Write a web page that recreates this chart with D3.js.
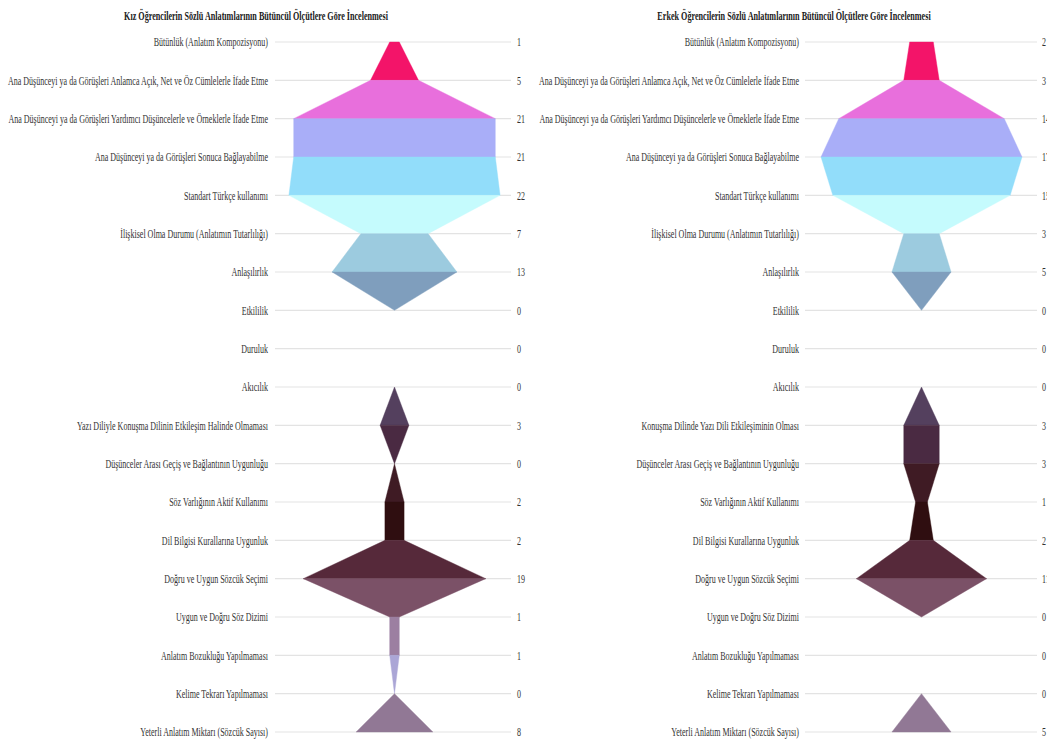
<!DOCTYPE html>
<html>
<head>
<meta charset="utf-8">
<script src="https://cdn.jsdelivr.net/npm/d3@7"></script>
<style>
  html, body { margin: 0; padding: 0; background: #fff; overflow: hidden; }
  svg { display: block; }
</style>
</head>
<body>
<svg id="chart" width="1047" height="745"></svg>
<script>
// Criteria of each panel (row 11 differs only in wording)
const girlsCategories = [
  "Bütünlük (Anlatım Kompozisyonu)",
  "Ana Düşünceyi ya da Görüşleri Anlamca Açık, Net ve Öz Cümlelerle İfade Etme",
  "Ana Düşünceyi ya da Görüşleri Yardımcı Düşüncelerle ve Örneklerle İfade Etme",
  "Ana Düşünceyi ya da Görüşleri Sonuca Bağlayabilme",
  "Standart Türkçe kullanımı",
  "İlişkisel Olma Durumu (Anlatımın Tutarlılığı)",
  "Anlaşılırlık",
  "Etkililik",
  "Duruluk",
  "Akıcılık",
  "Yazı Diliyle Konuşma Dilinin Etkileşim Halinde Olmaması",
  "Düşünceler Arası Geçiş ve Bağlantının Uygunluğu",
  "Söz Varlığının Aktif Kullanımı",
  "Dil Bilgisi Kurallarına Uygunluk",
  "Doğru ve Uygun Sözcük Seçimi",
  "Uygun ve Doğru Söz Dizimi",
  "Anlatım Bozukluğu Yapılmaması",
  "Kelime Tekrarı Yapılmaması",
  "Yeterli Anlatım Miktarı (Sözcük Sayısı)"
];
const boysCategories = [
  "Bütünlük (Anlatım Kompozisyonu)",
  "Ana Düşünceyi ya da Görüşleri Anlamca Açık, Net ve Öz Cümlelerle İfade Etme",
  "Ana Düşünceyi ya da Görüşleri Yardımcı Düşüncelerle ve Örneklerle İfade Etme",
  "Ana Düşünceyi ya da Görüşleri Sonuca Bağlayabilme",
  "Standart Türkçe kullanımı",
  "İlişkisel Olma Durumu (Anlatımın Tutarlılığı)",
  "Anlaşılırlık",
  "Etkililik",
  "Duruluk",
  "Akıcılık",
  "Konuşma Dilinde Yazı Dili Etkileşiminin Olması",
  "Düşünceler Arası Geçiş ve Bağlantının Uygunluğu",
  "Söz Varlığının Aktif Kullanımı",
  "Dil Bilgisi Kurallarına Uygunluk",
  "Doğru ve Uygun Sözcük Seçimi",
  "Uygun ve Doğru Söz Dizimi",
  "Anlatım Bozukluğu Yapılmaması",
  "Kelime Tekrarı Yapılmaması",
  "Yeterli Anlatım Miktarı (Sözcük Sayısı)"
];

const girlsValues = [1, 5, 21, 21, 22, 7, 13, 0, 0, 0, 3, 0, 2, 2, 19, 1, 1, 0, 8];
const boysValues  = [2, 3, 14, 17, 15, 3, 5, 0, 0, 0, 3, 3, 1, 2, 11, 0, 0, 0, 5];

const girlsTitle = "Kız Öğrencilerin Sözlü Anlatımlarının Bütüncül Ölçütlere Göre İncelenmesi";
const boysTitle  = "Erkek Öğrencilerin Sözlü Anlatımlarının Bütüncül Ölçütlere Göre İncelenmesi";

// Fill of each band between two consecutive criteria
const bandColors = [
  "#f31469", "#e86fdc", "#a9aef8", "#92ddfa", "#c5fbfd", "#9ccbdf",
  "#7f9ebd", "#6f8aa6", "#605f7e", "#54405e", "#4a2a42", "#3f1b24",
  "#2f0e10", "#56293a", "#7b5167", "#9c7fa1", "#aba6d6", "#917895"
];

const svg = d3.select("#chart");
const FONT = "'Liberation Serif', 'Times New Roman', serif";
const SX = 0.603; // horizontal condensation of the lettering

const y = d3.scalePoint()
  .domain(d3.range(girlsCategories.length))
  .range([42, 732]);

function panel(cfg) {
  const g = svg.append("g");
  const n = cfg.categories.length;
  const half = d3.scaleLinear()
    .domain([0, d3.max(cfg.values)])
    .range([0, cfg.maxHalf]);

  // title
  g.append("text")
    .attr("transform", `translate(${cfg.titleX},20) scale(${SX},1)`)
    .attr("text-anchor", "middle")
    .attr("font-family", FONT)
    .attr("font-weight", "bold")
    .attr("font-size", 13.5)
    .attr("fill", "#1a1a1a")
    .text(cfg.title);

  // row guide lines
  g.selectAll("line.grid")
    .data(d3.range(n))
    .join("line")
    .attr("class", "grid")
    .attr("x1", cfg.lineX0)
    .attr("x2", cfg.lineX1)
    .attr("y1", i => y(i))
    .attr("y2", i => y(i))
    .attr("stroke", "#e3e3e3")
    .attr("stroke-width", 1.2);

  // bands between consecutive criteria
  const bands = d3.range(n - 1).map(i => ({
    i,
    pts: [
      [cfg.cx - half(cfg.values[i]), y(i)],
      [cfg.cx + half(cfg.values[i]), y(i)],
      [cfg.cx + half(cfg.values[i + 1]), y(i + 1)],
      [cfg.cx - half(cfg.values[i + 1]), y(i + 1)]
    ]
  })).filter(b => cfg.values[b.i] + cfg.values[b.i + 1] > 0);

  g.selectAll("path.band")
    .data(bands)
    .join("path")
    .attr("class", "band")
    .attr("d", b => d3.line()(b.pts) + "Z")
    .attr("fill", b => bandColors[b.i])
    .attr("stroke", b => bandColors[b.i])
    .attr("stroke-width", 0.4);

  // criterion names
  g.selectAll("text.cat")
    .data(cfg.categories)
    .join("text")
    .attr("class", "cat")
    .attr("transform", (d, i) => `translate(${cfg.labelX},${y(i)}) scale(${SX},1)`)
    .attr("text-anchor", "end")
    .attr("dy", "0.33em")
    .attr("font-family", FONT)
    .attr("font-size", 13.3)
    .attr("fill", "#333")
    .text(d => d);

  // counts
  g.selectAll("text.val")
    .data(cfg.values)
    .join("text")
    .attr("class", "val")
    .attr("transform", (d, i) => `translate(${cfg.valueX},${y(i)}) scale(${SX},1)`)
    .attr("text-anchor", "start")
    .attr("dy", "0.33em")
    .attr("font-family", FONT)
    .attr("font-size", 13.3)
    .attr("fill", "#333")
    .text(d => d);
}

panel({
  title: girlsTitle, categories: girlsCategories, values: girlsValues,
  titleX: 256, labelX: 268, lineX0: 275, lineX1: 511, valueX: 517,
  cx: 394.5, maxHalf: 105.6
});
panel({
  title: boysTitle, categories: boysCategories, values: boysValues,
  titleX: 794, labelX: 799, lineX0: 805, lineX1: 1037, valueX: 1042,
  cx: 921.5, maxHalf: 100.5
});
</script>
</body>
</html>
